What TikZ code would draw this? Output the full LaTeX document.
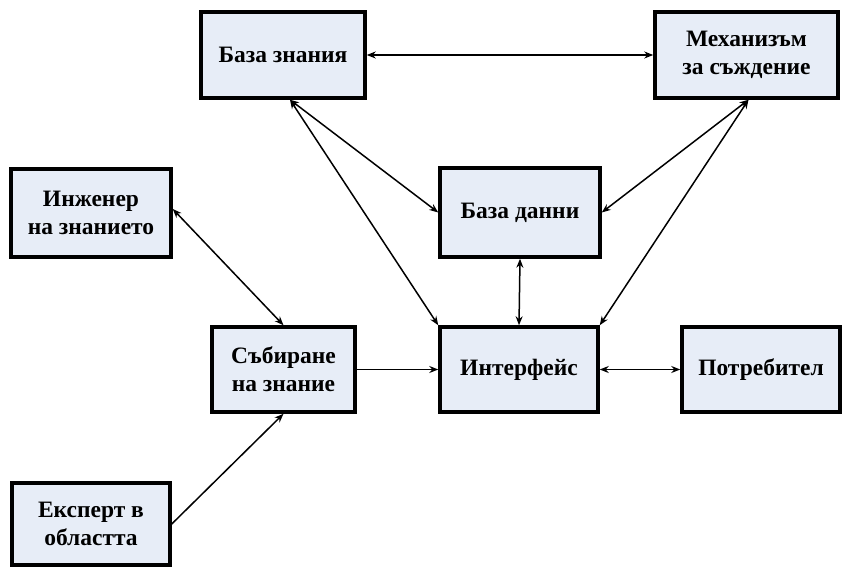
\documentclass[tikz,border=0pt]{standalone}
\usepackage{fontspec}
\setmainfont{Liberation Serif}
\usetikzlibrary{arrows.meta}
\definecolor{boxfill}{RGB}{231,237,247}
\tikzset{
  blk/.style={draw=black, line width=3.5pt, fill=boxfill, align=center,
    inner sep=0pt, font=\fontsize{23.5}{28}\selectfont\bfseries},
  conn/.style={line width=1.5pt, {Stealth[length=9pt,width=7pt]}-{Stealth[length=9pt,width=7pt]}},
  conn1/.style={line width=1.5pt, -{Stealth[length=9pt,width=7pt]}}
}
\begin{document}
\begin{tikzpicture}[x=1pt,y=-1pt]
\useasboundingbox (0,0) rectangle (846,567);
\node[blk, minimum width=164pt, minimum height=86pt] (kb) at (283,55) {База знания};
\node[blk, minimum width=183pt, minimum height=86pt] (mech) at (746.5,55) {Механизъм\\за съждение};
\node[blk, minimum width=160pt, minimum height=88pt] (eng) at (91,213) {Инженер\\на знанието};
\node[blk, minimum width=160pt, minimum height=89pt] (db) at (520,212.5) {База данни};
\node[blk, minimum width=143pt, minimum height=85pt] (acq) at (283.5,369.5) {Събиране\\на знание};
\node[blk, minimum width=158pt, minimum height=85pt] (iface) at (519,369.5) {Интерфейс};
\node[blk, minimum width=158pt, minimum height=85pt] (user) at (761,369.5) {Потребител};
\node[blk, minimum width=158pt, minimum height=82pt] (exp) at (91,524) {Експерт в\\областта};
\coordinate (kbs) at ([xshift=7pt]kb.south);
\coordinate (mechs) at ([xshift=2pt]mech.south);
\draw[conn] (kb.east) -- (mech.west);
\draw[conn] (kbs) -- (db.west);
\draw[conn] (kbs) -- (iface.north west);
\draw[conn] (mechs) -- (db.east);
\draw[conn] (mechs) -- (iface.north east);
\draw[conn] (db.south) -- (iface.north);
\draw[conn] ([yshift=4pt]eng.east) -- (acq.north);
\draw[conn1] (exp.east) -- (acq.south);
\draw[conn1] (acq.east) -- (iface.west);
\draw[conn] (iface.east) -- (user.west);
\end{tikzpicture}
\end{document}
